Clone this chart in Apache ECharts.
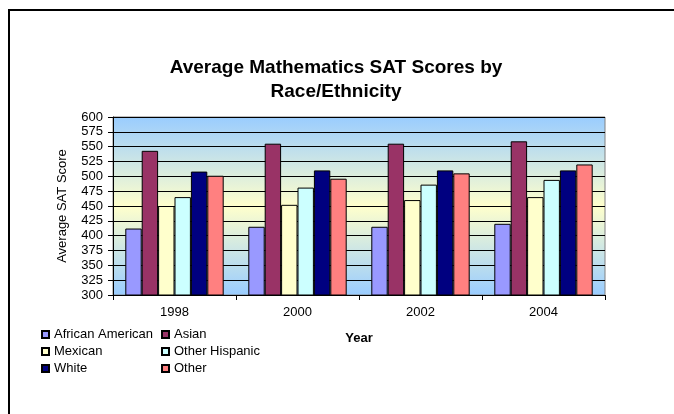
<!DOCTYPE html>
<html>
<head>
<meta charset="utf-8">
<script src="https://cdn.jsdelivr.net/npm/echarts@6/dist/echarts.min.js"></script>
<style>
html,body{margin:0;padding:0;background:#fff;}
#chart{width:674px;height:414px;}
</style>
</head>
<body>
<div id="chart"></div>
<script>
var years = ['1998', '2000', '2002', '2004'];
var africanAmerican = [412, 415, 415, 420];
var asian = [543, 555, 555, 559];
var mexican = [450, 452, 460, 465];
var otherHispanic = [465, 481, 486, 494];
var white = [508, 510, 510, 510];
var other = [501, 496, 505, 520];
var seriesNames = ['African American', 'Asian', 'Mexican', 'Other Hispanic', 'White', 'Other'];
var seriesColors = ['#9999FF', '#993366', '#FFFFCC', '#CCFFFF', '#000080', '#FF8080'];
var seriesData = [africanAmerican, asian, mexican, otherHispanic, white, other];

var font = 'Arial, "Liberation Sans", sans-serif';
var chart = echarts.init(document.getElementById('chart'), null, {renderer: 'canvas'});

var series = seriesNames.map(function (n, i) {
  return {
    name: n,
    type: 'bar',
    data: seriesData[i],
    barGap: '0%',
    barCategoryGap: '20%',
    itemStyle: {color: seriesColors[i], borderColor: '#000', borderWidth: 1},
    emphasis: {disabled: true}
  };
});

chart.setOption({
  animation: false,
  backgroundColor: '#fff',
  graphic: [{
    type: 'rect',
    shape: {x: 9, y: 10, width: 700, height: 500},
    style: {fill: 'none', stroke: '#000', lineWidth: 2},
    silent: true,
    z: 100
  }],
  title: {
    text: 'Average Mathematics SAT Scores by\nRace/Ethnicity',
    left: 331,
    textAlign: 'center',
    top: 51,
    textStyle: {fontFamily: font, fontSize: 19, fontWeight: 'bold', color: '#000', lineHeight: 24}
  },
  legend: [{
    data: ['African American', 'Mexican', 'White'],
    orient: 'vertical',
    left: 41,
    top: 328,
    itemWidth: 7, itemHeight: 7, itemGap: 4,
    icon: 'rect',
    padding: 0,
    selectedMode: false,
    textStyle: {fontFamily: font, fontSize: 13, color: '#000', lineHeight: 13}
  }, {
    data: ['Asian', 'Other Hispanic', 'Other'],
    orient: 'vertical',
    left: 161,
    top: 328,
    itemWidth: 7, itemHeight: 7, itemGap: 4,
    icon: 'rect',
    padding: 0,
    selectedMode: false,
    textStyle: {fontFamily: font, fontSize: 13, color: '#000', lineHeight: 13}
  }],
  grid: {
    left: 113, right: 69, top: 117, bottom: 119,
    show: true,
    borderColor: '#808080',
    borderWidth: 1,
    backgroundColor: {
      type: 'linear', x: 0, y: 0, x2: 0, y2: 1,
      colorStops: [
        {offset: 0, color: '#99CCFF'},
        {offset: 0.5, color: '#FFFFCC'},
        {offset: 1, color: '#99CCFF'}
      ]
    }
  },
  xAxis: {
    type: 'category',
    data: years,
    name: 'Year',
    nameLocation: 'middle',
    nameGap: 37,
    nameTextStyle: {fontFamily: font, fontSize: 13, fontWeight: 'bold', color: '#000'},
    axisLine: {lineStyle: {color: '#000', width: 1}},
    axisTick: {show: true, length: 5, lineStyle: {color: '#000'}},
    axisLabel: {fontFamily: font, fontSize: 13, color: '#000', margin: 11}
  },
  yAxis: {
    type: 'value',
    min: 300, max: 600, interval: 25,
    name: 'Average SAT Score',
    nameLocation: 'middle',
    nameGap: 44,
    nameTextStyle: {fontFamily: font, fontSize: 13, color: '#000'},
    axisLine: {show: true, lineStyle: {color: '#000', width: 1}},
    axisTick: {show: true, length: 5, lineStyle: {color: '#000'}},
    axisLabel: {fontFamily: font, fontSize: 13, color: '#000', margin: 10},
    splitLine: {show: true, lineStyle: {color: '#000', width: 1}}
  },
  series: series
});
</script>
</body>
</html>
